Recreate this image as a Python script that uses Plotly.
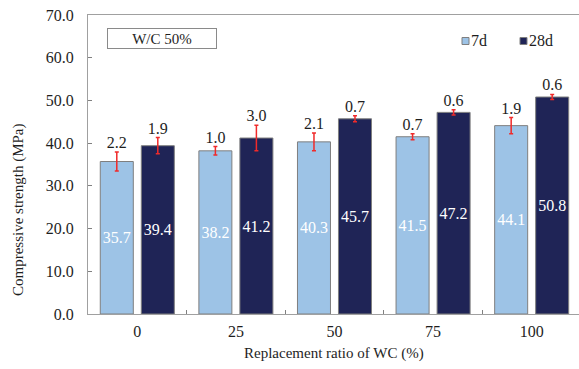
import plotly.graph_objects as go

# Compressive strength of mortar vs. WC replacement ratio (W/C 50%)
ratios = ["0", "25", "50", "75", "100"]
strength_7d = [35.7, 38.2, 40.3, 41.5, 44.1]
strength_28d = [39.4, 41.2, 45.7, 47.2, 50.8]
sd_7d = [2.2, 1.0, 2.1, 0.7, 1.9]
sd_28d = [1.9, 3.0, 0.7, 0.6, 0.6]

FONT = "Liberation Serif"
TXT = "#1e1e1e"
AXIS = "#a0a0a0"
C7 = "#9dc3e6"
C28 = "#1f2456"
BARGAP = 0.168
GROUPGAP = 0.195

W, H = 579, 369
ML, MR, MT, MB = 88, 0, 15, 55
PW = W - ML - MR
PH = H - MT - MB


def px_x(p):
    return (p - ML) / PW


def px_y(p):
    return 1 - (p - MT) / PH


def font(size=16, color=TXT):
    return dict(family=FONT, size=size, color=color)


xs = list(range(len(ratios)))
half = (1 - BARGAP) / 4  # distance of each bar centre from its category centre

fig = go.Figure()
series = [
    ("7d", strength_7d, sd_7d, C7, -half),
    ("28d", strength_28d, sd_28d, C28, half),
]
for name, vals, sd, color, off in series:
    fig.add_bar(
        x=xs, y=vals, name=name, showlegend=False,
        marker=dict(color=color, line=dict(color="#7f7f7f", width=1)),
        error_y=dict(type="data", array=sd, color="#f02a2a", thickness=1.5, width=2),
        text=[f"{v:.1f}" for v in vals], textposition="inside",
        insidetextanchor="middle", textangle=0, constraintext="none",
        insidetextfont=font(16, "white"),
        hoverinfo="skip",
    )
    fig.add_scatter(
        x=[i + off for i in xs], y=[v + s for v, s in zip(vals, sd)],
        mode="text", text=[f"{s:.1f}" for s in sd], textposition="top center",
        textfont=font(16),
        showlegend=False, hoverinfo="skip",
    )

fig.update_layout(
    width=W, height=H,
    margin=dict(l=ML, r=MR, t=MT, b=MB, pad=0),
    paper_bgcolor="white", plot_bgcolor="white",
    barmode="group", bargap=BARGAP, bargroupgap=GROUPGAP,
    font=font(16),
    xaxis=dict(
        range=[-0.5, 4.48],
        tickmode="array", tickvals=xs, ticktext=ratios, ticks="",
        tickfont=font(16),
        showline=True, linecolor=AXIS, linewidth=1, mirror=True,
        showgrid=False, zeroline=False, ticklabelstandoff=3,
        minor=dict(tickmode="array", tickvals=[i + 0.5 for i in xs[:-1]],
                   ticks="inside", ticklen=4, tickcolor="#808080", tickwidth=1),
    ),
    yaxis=dict(
        range=[0, 70], dtick=10, tickformat=".1f",
        tickfont=font(16),
        ticks="inside", ticklen=4, tickcolor="#808080", tickwidth=1,
        showline=True, linecolor=AXIS, linewidth=1,
        showgrid=False, zeroline=False, ticklabelstandoff=10,
    ),
    annotations=[
        dict(text="Compressive strength (MPa)", xref="paper", yref="paper",
             x=px_x(18), y=px_y(210), xanchor="center", yanchor="middle",
             textangle=-90, showarrow=False, font=font(15)),
        dict(text="Replacement ratio of WC (%)", xref="paper", yref="paper",
             x=px_x(334), y=px_y(353), xanchor="center", yanchor="middle",
             showarrow=False, font=font(15)),
        dict(text="W/C 50%", xref="paper", yref="paper",
             x=px_x(162), y=px_y(38.5), xanchor="center", yanchor="middle",
             showarrow=False, width=108, height=19,
             bordercolor="#8a8a8a", borderwidth=1, borderpad=0, font=font(15)),
        dict(text="7d", xref="paper", yref="paper", x=px_x(469), y=px_y(41),
             xanchor="left", yanchor="middle", showarrow=False, font=font(16)),
        dict(text="28d", xref="paper", yref="paper", x=px_x(527), y=px_y(41),
             xanchor="left", yanchor="middle", showarrow=False, font=font(16)),
    ],
    shapes=[
        dict(type="rect", xref="paper", yref="paper",
             x0=px_x(462), x1=px_x(469), y0=px_y(44.5), y1=px_y(37.5),
             fillcolor=C7, line=dict(color="#7f7f7f", width=1)),
        dict(type="rect", xref="paper", yref="paper",
             x0=px_x(520), x1=px_x(527), y0=px_y(44.5), y1=px_y(37.5),
             fillcolor=C28, line=dict(color="#7f7f7f", width=1)),
    ],
)

fig.write_html("out.html")
